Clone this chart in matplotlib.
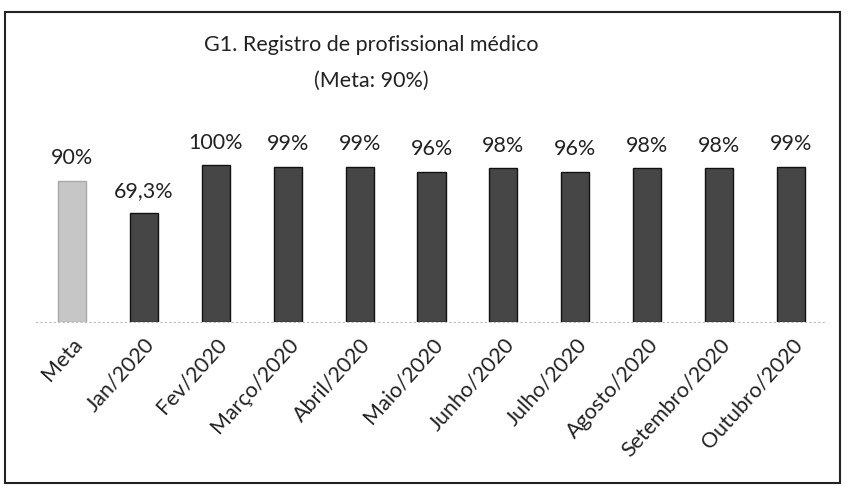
import matplotlib
matplotlib.use("Agg")
import matplotlib.pyplot as plt
from matplotlib.patches import Rectangle

categorias = ["Meta", "Jan/2020", "Fev/2020", "Março/2020", "Abril/2020", "Maio/2020",
              "Junho/2020", "Julho/2020", "Agosto/2020", "Setembro/2020", "Outubro/2020"]
valores = [0.90, 0.693, 1.00, 0.99, 0.99, 0.96, 0.98, 0.96, 0.98, 0.98, 0.99]
rotulos = ["90%", "69,3%", "100%", "99%", "99%", "96%", "98%", "96%", "98%", "98%", "99%"]

plt.rcParams['font.family'] = ['Lato', 'DejaVu Sans']

W, H = 847, 486
fig = plt.figure(figsize=(W / 100, H / 100), dpi=100)

# axes placed in pixel terms: baseline at y=322, categories from x=36 to 827
left, right, bottom, top = 36, 827, 322, 134
ax = fig.add_axes([left / W, 1 - bottom / H, (right - left) / W, (bottom - top) / H])

cores = ["#c6c6c6"] + ["#464646"] * (len(valores) - 1)
bordas = ["#a8a8a8"] + ["#111111"] * (len(valores) - 1)
x = range(len(categorias))
ax.bar(x, valores, width=0.39, color=cores, edgecolor=bordas, linewidth=1.0)

for xi, v, r in zip(x, valores, rotulos):
    ax.annotate(r, (xi, v), xytext=(0, 9), textcoords="offset points",
                ha="center", va="bottom", fontsize=15.5, color="#222222")

ax.set_xlim(-0.5, len(categorias) - 0.5)
ax.set_ylim(0, 1.2)
ax.set_yticks([])
ax.set_xticks(list(x))
ax.set_xticklabels(categorias, rotation=48, ha="right", rotation_mode="anchor",
                   fontsize=15.5, color="#222222")
ax.tick_params(axis="x", length=0, pad=9)
for s in ["top", "right", "left"]:
    ax.spines[s].set_visible(False)
ax.spines["bottom"].set_color("#bbbbbb")
ax.spines["bottom"].set_linestyle((0, (1, 3)))
ax.spines["bottom"].set_linewidth(0.8)

fig.text(371 / W, 1 - 45 / H, "G1. Registro de profissional médico",
         ha="center", va="center", fontsize=15.5, color="#222222")
fig.text(371 / W, 1 - 81 / H, "(Meta: 90%)",
         ha="center", va="center", fontsize=15.5, color="#222222")

# moldura do gráfico
fig.patches.append(Rectangle((5 / W, 1 - 483 / H), 835 / W, 471 / H,
                             transform=fig.transFigure, fill=False,
                             edgecolor="#222222", linewidth=1.5))

fig.savefig("out.png", dpi=100)
